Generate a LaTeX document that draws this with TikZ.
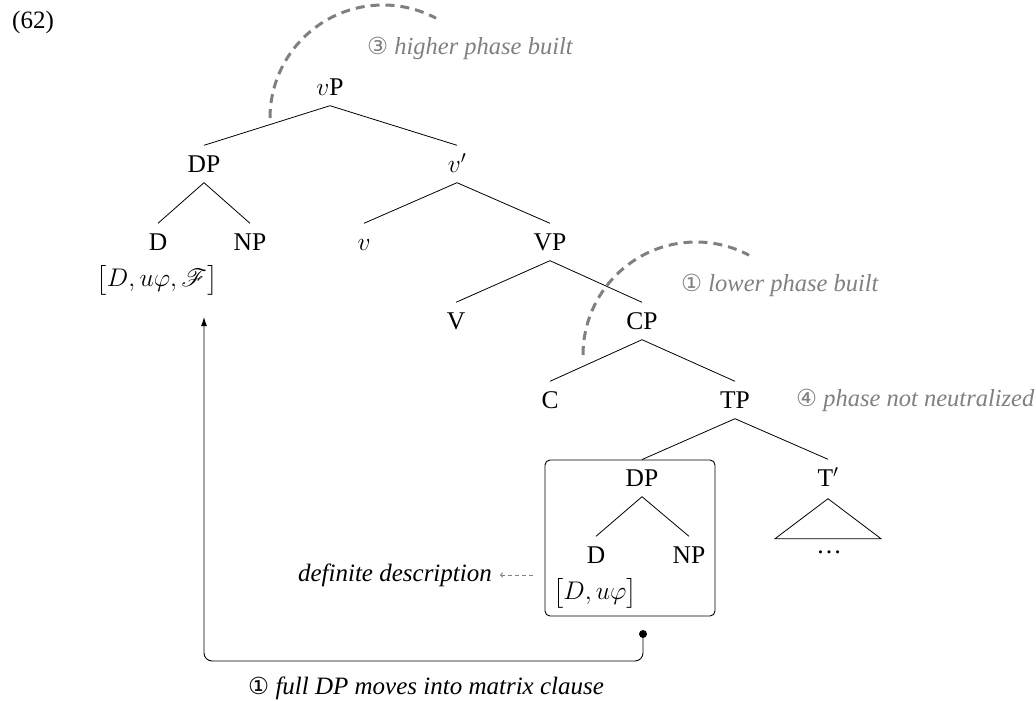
\documentclass[tikz,border=0pt]{standalone}
\usepackage{fix-cm}
\usepackage{amsmath}
\usepackage{mathrsfs}
\usepackage{fontspec}
\setmainfont{Liberation Serif}
\newfontfamily\symfont{DejaVu Sans}
\usetikzlibrary{arrows.meta}
\definecolor{phasegray}{RGB}{128,128,128}
\newcommand{\circnum}[1]{{\upshape\symfont\fontsize{23.5}{28}\selectfont #1}}

\begin{document}
\begin{tikzpicture}[x=1pt,y=-1pt,
  cat/.style={inner sep=0pt, text height=17pt, text depth=0pt, minimum height=37pt,
              font=\fontsize{25.5}{30}\selectfont},
  feat/.style={inner sep=0pt, font=\fontsize{25.5}{30}\selectfont},
  branch/.style={line width=0.8pt},
  note/.style={text=phasegray, font=\fontsize{24.5}{29}\selectfont\itshape, inner sep=0pt},
  caption/.style={font=\fontsize{25}{30}\selectfont\itshape, inner sep=0pt},
  phasearc/.style={draw=phasegray, line width=3pt, dash pattern=on 9pt off 6pt},
]
\useasboundingbox (0,0) rectangle (1036,701);

% example number
\node[inner sep=0pt, anchor=base west, font=\fontsize{25}{30}\selectfont] (exnum) at (12,29) {(62)};

% matrix clause
\node[cat] (vP)   at (330,87)  {$v$P};
\node[cat] (DP1)  at (204,164) {DP};
\node[cat] (vbar) at (457,164) {$v'$};
\node[cat] (D1)   at (158,242) {D};
\node[cat] (NP1)  at (250,242) {NP};
\node[feat] (f1)  at (157,280) {$\bigl[D, u\varphi, \mathscr{F}\bigr]$};
\node[cat] (v)    at (364,242) {$v$};
\node[cat] (VP)   at (550,242) {VP};
\node[cat] (V)    at (456,321) {V};
\node[cat] (CP)   at (642,321) {CP};
\node[cat] (C)    at (550,400) {C};
\node[cat] (TP)   at (735,400) {TP};
\node[cat] (Tbar) at (828,478) {T$'$};
\node[cat, anchor=base] (dots) at (829,553) {\dots};

% embedded DP inside the box
\node[draw, rounded corners=5pt, line width=0.9pt, minimum width=170pt,
      minimum height=156pt, inner sep=0pt] (box) at (630,538) {};
\node[cat] (DP2) at (642,478) {DP};
\node[cat] (D2)  at (596,555) {D};
\node[cat] (NP2) at (689,555) {NP};
\node[feat] (f2) at (595,593) {$\bigl[D, u\varphi\bigr]$};

% branches
\draw[branch] (vP.south) -- (DP1.north);
\draw[branch] (vP.south) -- (vbar.north);
\draw[branch] (DP1.south) -- (D1.north);
\draw[branch] (DP1.south) -- (NP1.north);
\draw[branch] (vbar.south) -- (v.north);
\draw[branch] (vbar.south) -- (VP.north);
\draw[branch] (VP.south) -- (V.north);
\draw[branch] (VP.south) -- (CP.north);
\draw[branch] (CP.south) -- (C.north);
\draw[branch] (CP.south) -- (TP.north);
\draw[branch] (TP.south) -- (box.north -| DP2);
\draw[branch] (TP.south) -- (Tbar.north);
\draw[branch] (DP2.south) -- (D2.north);
\draw[branch] (DP2.south) -- (NP2.north);
\draw[branch] ([yshift=-2pt]Tbar.south) -- ++(-53,40) -- ++(106,0) -- cycle;

% phase arcs and notes
\draw[phasearc] (270,118) arc[start angle=180, end angle=62, radius=113pt];
\draw[phasearc] (583,355) arc[start angle=180, end angle=62, radius=113pt];
\node[note, anchor=west] (n3) at (367,48)  {\circnum{③} higher phase built};
\node[note, anchor=west] (n1) at (681,285) {\circnum{①} lower phase built};
\node[note, anchor=west] (n4) at (796,400) {\circnum{④} phase not neutralized};

% definite description
\node[caption, anchor=east] (defdesc) at (492,575) {definite description};
\draw[phasegray, line width=0.8pt, dash pattern=on 4pt off 3pt, shorten <=12pt, shorten >=8pt,
      -{To[length=3pt,width=5pt]}] (box.west |- defdesc.east) -- (defdesc.east);

% movement of the full DP
\node[circle, fill, inner sep=0pt, minimum size=8pt] (src) at (643,634) {};
\coordinate (land) at (DP1 |- 0,317);
\draw[line width=0.9pt, rounded corners=8pt, -{Latex[length=9pt,width=6pt]}]
  (src.center) -- (src.center |- 0,661) -- (land |- 0,661) -- (land);
\node[caption, anchor=west] (movelabel) at (248,688) {\circnum{①} full DP moves into matrix clause};
\end{tikzpicture}
\end{document}
